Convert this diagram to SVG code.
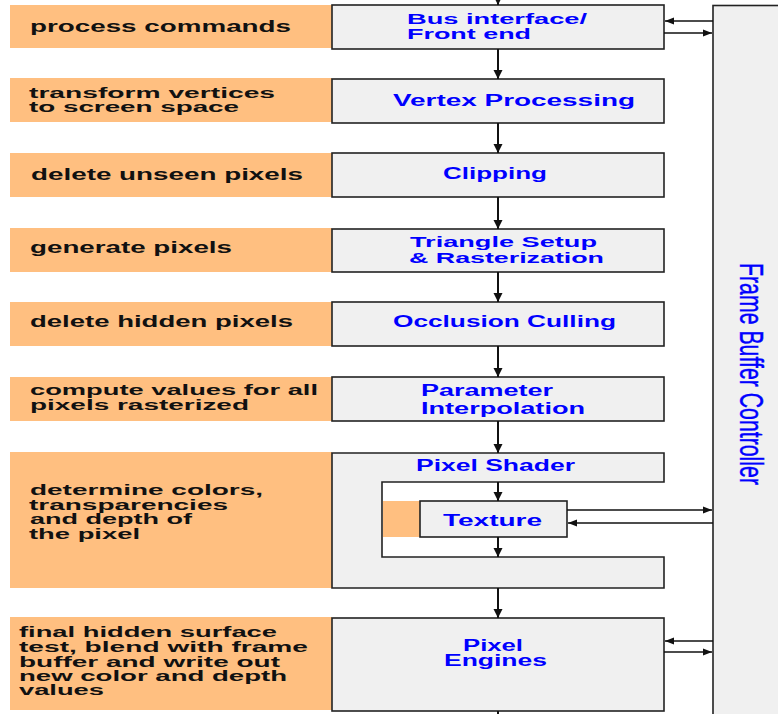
<svg xmlns="http://www.w3.org/2000/svg" width="778" height="714" viewBox="0 0 778 714">
  <style>
    .lbl { fill: #ffbf80; }
    .box { fill: #f0f0f0; stroke: #222; stroke-width: 1.6; }
    .desc { font-family: "Liberation Sans", Arial, sans-serif; font-weight: bold; font-size: 16.5px; fill: #111; }
    .name { font-family: "Liberation Sans", Arial, sans-serif; font-weight: bold; font-size: 16px; fill: #0000ff; }
    .tight { font-size: 14.5px; }
    .fbc { font-family: "Liberation Sans", Arial, sans-serif; font-size: 33px; fill: #0000ff; stroke: #0000ff; stroke-width: 0.4; }
    .v { stroke: #111; stroke-width: 2; fill: none; }
    .h { stroke: #111; stroke-width: 1.4; fill: none; }
  </style>
  <defs>
    <marker id="ah" markerUnits="userSpaceOnUse" markerWidth="10" markerHeight="10" refX="9" refY="5" orient="auto">
      <path d="M0,0.5 L9,5 L0,9.5 z" fill="#111"/>
    </marker>
    <marker id="ahs" markerUnits="userSpaceOnUse" markerWidth="10" markerHeight="8" refX="9" refY="4" orient="auto">
      <path d="M0,0.5 L9,4 L0,7.5 z" fill="#111"/>
    </marker>
  </defs>

  <rect width="778" height="714" fill="#ffffff"/>

  <!-- frame buffer controller column -->
  <g id="frame-buffer-controller">
    <rect class="box" x="713" y="5.5" width="80" height="720"/>
    <text class="fbc" transform="translate(740,263) rotate(90)" textLength="222" lengthAdjust="spacingAndGlyphs">Frame Buffer Controller</text>
  </g>

  <g id="bus-interface">
    <rect class="lbl" x="10" y="5" width="322" height="43"/>
    <text class="desc" x="30" y="32" textLength="261" lengthAdjust="spacingAndGlyphs">process commands</text>
    <rect class="box" x="332" y="5" width="332" height="44"/>
    <text class="name tight" x="407" y="24" textLength="180" lengthAdjust="spacingAndGlyphs">Bus interface/</text>
    <text class="name tight" x="407" y="39" textLength="124" lengthAdjust="spacingAndGlyphs">Front end</text>
  </g>

  <g id="vertex-processing">
    <rect class="lbl" x="10" y="78" width="322" height="44"/>
    <text class="desc tight" x="29" y="98" textLength="246" lengthAdjust="spacingAndGlyphs">transform vertices</text>
    <text class="desc tight" x="29" y="112" textLength="210" lengthAdjust="spacingAndGlyphs">to screen space</text>
    <rect class="box" x="332" y="79" width="332" height="44"/>
    <text class="name" x="393" y="106" textLength="242" lengthAdjust="spacingAndGlyphs">Vertex Processing</text>
  </g>

  <g id="clipping">
    <rect class="lbl" x="10" y="153" width="322" height="44"/>
    <text class="desc" x="31" y="180" textLength="272" lengthAdjust="spacingAndGlyphs">delete unseen pixels</text>
    <rect class="box" x="332" y="153" width="332" height="44"/>
    <text class="name" x="443" y="179" textLength="104" lengthAdjust="spacingAndGlyphs">Clipping</text>
  </g>

  <g id="triangle-setup">
    <rect class="lbl" x="10" y="228" width="322" height="44"/>
    <text class="desc" x="30" y="253" textLength="202" lengthAdjust="spacingAndGlyphs">generate pixels</text>
    <rect class="box" x="332" y="229" width="332" height="43"/>
    <text class="name tight" x="410" y="247" textLength="187" lengthAdjust="spacingAndGlyphs">Triangle Setup</text>
    <text class="name tight" x="409" y="263" textLength="195" lengthAdjust="spacingAndGlyphs">&amp; Rasterization</text>
  </g>

  <g id="occlusion-culling">
    <rect class="lbl" x="10" y="302" width="322" height="44"/>
    <text class="desc" x="30" y="327" textLength="263" lengthAdjust="spacingAndGlyphs">delete hidden pixels</text>
    <rect class="box" x="332" y="302" width="332" height="44"/>
    <text class="name" x="393" y="327" textLength="223" lengthAdjust="spacingAndGlyphs">Occlusion Culling</text>
  </g>

  <g id="parameter-interpolation">
    <rect class="lbl" x="10" y="377" width="322" height="44"/>
    <text class="desc tight" x="30" y="395" textLength="288" lengthAdjust="spacingAndGlyphs">compute values for all</text>
    <text class="desc tight" x="30" y="410" textLength="219" lengthAdjust="spacingAndGlyphs">pixels rasterized</text>
    <rect class="box" x="332" y="377" width="332" height="44"/>
    <text class="name" x="421" y="396" textLength="132" lengthAdjust="spacingAndGlyphs">Parameter</text>
    <text class="name" x="421" y="414" textLength="164" lengthAdjust="spacingAndGlyphs">Interpolation</text>
  </g>

  <g id="pixel-shader">
    <rect class="lbl" x="10" y="452" width="322" height="136"/>
    <text class="desc tight" x="30" y="495" textLength="233" lengthAdjust="spacingAndGlyphs">determine colors,</text>
    <text class="desc tight" x="29" y="510" textLength="199" lengthAdjust="spacingAndGlyphs">transparencies</text>
    <text class="desc tight" x="30" y="524" textLength="162" lengthAdjust="spacingAndGlyphs">and depth of</text>
    <text class="desc tight" x="29" y="539" textLength="111" lengthAdjust="spacingAndGlyphs">the pixel</text>
    <path class="box" d="M332,453 H664 V482 H382 V557 H664 V588 H332 Z"/>
    <text class="name" x="416" y="471" textLength="159" lengthAdjust="spacingAndGlyphs">Pixel Shader</text>
  </g>

  <g id="texture">
    <rect class="lbl" x="383" y="501" width="37" height="36"/>
    <rect class="box" x="420" y="501" width="147" height="36"/>
    <text class="name" x="443" y="526" textLength="99" lengthAdjust="spacingAndGlyphs">Texture</text>
  </g>

  <g id="pixel-engines">
    <rect class="lbl" x="10" y="617" width="322" height="93"/>
    <text class="desc tight" x="19" y="637" textLength="258" lengthAdjust="spacingAndGlyphs">final hidden surface</text>
    <text class="desc tight" x="19" y="652" textLength="289" lengthAdjust="spacingAndGlyphs">test, blend with frame</text>
    <text class="desc tight" x="19" y="667" textLength="261" lengthAdjust="spacingAndGlyphs">buffer and write out</text>
    <text class="desc tight" x="19" y="681" textLength="268" lengthAdjust="spacingAndGlyphs">new color and depth</text>
    <text class="desc tight" x="19" y="695" textLength="85" lengthAdjust="spacingAndGlyphs">values</text>
    <rect class="box" x="332" y="618" width="332" height="93"/>
    <text class="name" x="463" y="651" textLength="60" lengthAdjust="spacingAndGlyphs">Pixel</text>
    <text class="name" x="444" y="666" textLength="103" lengthAdjust="spacingAndGlyphs">Engines</text>
  </g>

  <!-- connectors -->
  <g id="connectors">
    <line class="v" x1="498" y1="-12" x2="498" y2="5" marker-end="url(#ah)"/>
    <line class="v" x1="498" y1="49" x2="498" y2="79" marker-end="url(#ah)"/>
    <line class="v" x1="498" y1="123" x2="498" y2="153" marker-end="url(#ah)"/>
    <line class="v" x1="498" y1="197" x2="498" y2="229" marker-end="url(#ah)"/>
    <line class="v" x1="498" y1="272" x2="498" y2="302" marker-end="url(#ah)"/>
    <line class="v" x1="498" y1="346" x2="498" y2="377" marker-end="url(#ah)"/>
    <line class="v" x1="498" y1="421" x2="498" y2="453" marker-end="url(#ah)"/>
    <line class="v" x1="498" y1="482" x2="498" y2="501" marker-end="url(#ah)"/>
    <line class="v" x1="498" y1="537" x2="498" y2="557" marker-end="url(#ah)"/>
    <line class="v" x1="498" y1="588" x2="498" y2="618" marker-end="url(#ah)"/>
    <line class="v" x1="498" y1="711" x2="498" y2="716"/>

    <line class="h" x1="713" y1="21" x2="665" y2="21" marker-end="url(#ahs)"/>
    <line class="h" x1="664" y1="33" x2="712" y2="33" marker-end="url(#ahs)"/>
    <line class="h" x1="567" y1="510" x2="712" y2="510" marker-end="url(#ahs)"/>
    <line class="h" x1="713" y1="523" x2="568" y2="523" marker-end="url(#ahs)"/>
    <line class="h" x1="713" y1="641" x2="665" y2="641" marker-end="url(#ahs)"/>
    <line class="h" x1="664" y1="652" x2="712" y2="652" marker-end="url(#ahs)"/>
  </g>
</svg>
